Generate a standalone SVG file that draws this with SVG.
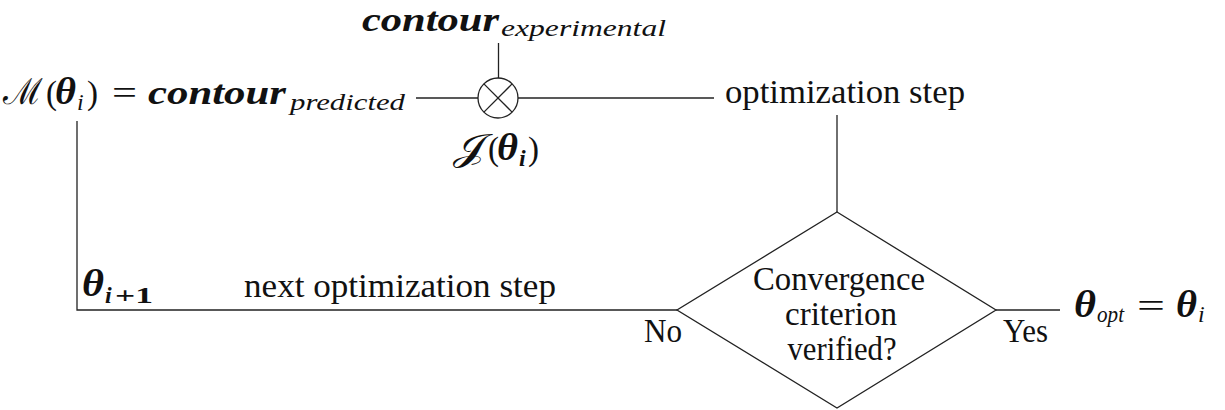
<svg xmlns="http://www.w3.org/2000/svg" width="1225" height="410" viewBox="0 0 1225 410">
<style>
text{font-family:"Liberation Serif","DejaVu Serif",serif;fill:#111;}
.r{font-size:33px;}
.bi{font-size:34px;font-weight:bold;font-style:italic;}
.th{font-size:37px;font-weight:bold;font-style:italic;}
.cal{font-size:36px;}
.sub{font-size:24px;font-style:italic;}
.subb{font-size:24px;font-style:italic;font-weight:bold;}
.subbr{font-size:24px;font-weight:bold;}
.ln{stroke:#222;stroke-width:1.3;fill:none;}
</style>
<rect width="1225" height="410" fill="#fff"/>
<g id="connectors">
<line class="ln" x1="416" y1="98" x2="478" y2="98"/>
<line class="ln" x1="518" y1="98" x2="714" y2="98"/>
<line class="ln" x1="498.5" y1="43" x2="498.5" y2="78"/>
<line class="ln" x1="837" y1="115" x2="837" y2="212"/>
<polyline class="ln" points="77,121 77,310 677,310"/>
<line class="ln" x1="996" y1="310" x2="1060" y2="310"/>
</g>
<g id="model">
<text class="cal" x="3" y="104" textLength="40" lengthAdjust="spacingAndGlyphs">ℳ</text>
<text class="r" x="46" y="104">(</text>
<text class="th" x="55" y="104" textLength="21" lengthAdjust="spacingAndGlyphs">θ</text>
<text class="sub" x="77" y="110">i</text>
<text class="r" x="87" y="104">)</text>
<text class="r" x="112" y="104" textLength="25" lengthAdjust="spacingAndGlyphs">=</text>
<text class="bi" x="148" y="104" textLength="138" lengthAdjust="spacingAndGlyphs">contour</text>
<text class="sub" x="290" y="110" textLength="115" lengthAdjust="spacingAndGlyphs">predicted</text>
</g>
<g id="experimental">
<text class="bi" x="362" y="31" textLength="137" lengthAdjust="spacingAndGlyphs">contour</text>
<text class="sub" x="501" y="36" textLength="165" lengthAdjust="spacingAndGlyphs">experimental</text>
</g>
<g id="comparator">
<circle cx="498" cy="98" r="20" fill="#fff" stroke="#222" stroke-width="1.3"/>
<line class="ln" x1="483.9" y1="83.9" x2="512.1" y2="112.1"/>
<line class="ln" x1="512.1" y1="83.9" x2="483.9" y2="112.1"/>
<text class="cal" x="453" y="160" textLength="33" lengthAdjust="spacingAndGlyphs">𝒥</text>
<text class="r" x="488" y="160">(</text>
<text class="th" x="497" y="160" textLength="21" lengthAdjust="spacingAndGlyphs">θ</text>
<text class="subb" x="519" y="166">i</text>
<text class="r" x="528" y="160">)</text>
</g>
<g id="optimization-step">
<text class="r" x="725" y="103" textLength="240" lengthAdjust="spacingAndGlyphs">optimization step</text>
</g>
<g id="decision">
<polygon class="ln" points="837,212 996,310 837,408 677,310"/>
<text class="r" x="839" y="290" text-anchor="middle" textLength="172" lengthAdjust="spacingAndGlyphs">Convergence</text>
<text class="r" x="841" y="325" text-anchor="middle" textLength="112" lengthAdjust="spacingAndGlyphs">criterion</text>
<text class="r" x="842" y="360" text-anchor="middle" textLength="109" lengthAdjust="spacingAndGlyphs">verified?</text>
<text class="r" x="644" y="342" textLength="38" lengthAdjust="spacingAndGlyphs">No</text>
<text class="r" x="1003" y="342" textLength="45" lengthAdjust="spacingAndGlyphs">Yes</text>
</g>
<g id="next-step">
<text class="th" x="82" y="296" textLength="22" lengthAdjust="spacingAndGlyphs">θ</text>
<text class="subb" x="105" y="303">i</text>
<text class="subbr" x="115" y="303" textLength="38" lengthAdjust="spacingAndGlyphs">+1</text>
<text class="r" x="244" y="297" textLength="312" lengthAdjust="spacingAndGlyphs">next optimization step</text>
</g>
<g id="result">
<text class="th" x="1074" y="317" textLength="22" lengthAdjust="spacingAndGlyphs">θ</text>
<text class="sub" x="1097" y="322" textLength="27" lengthAdjust="spacingAndGlyphs">opt</text>
<text class="r" x="1137" y="317" textLength="28" lengthAdjust="spacingAndGlyphs">=</text>
<text class="th" x="1176" y="317" textLength="21" lengthAdjust="spacingAndGlyphs">θ</text>
<text class="sub" x="1198" y="322">i</text>
</g>
</svg>
